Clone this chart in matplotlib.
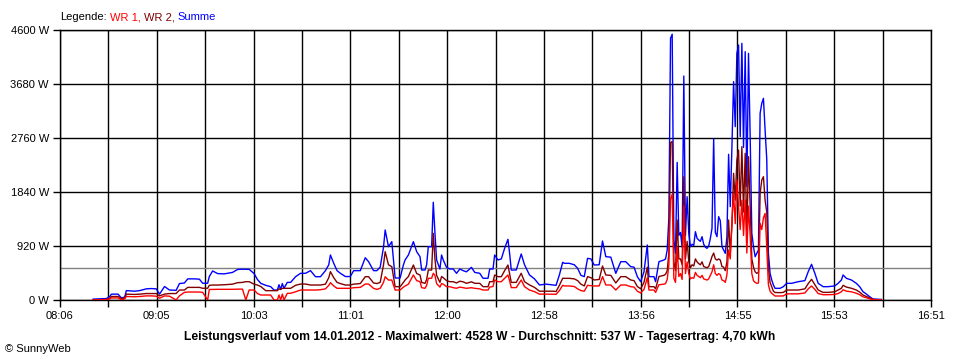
import matplotlib
matplotlib.use("Agg")
import matplotlib.pyplot as plt
import numpy as np

plt.rcParams["font.family"] = ["Liberation Sans", "DejaVu Sans"]

# Messzeitpunkte (HH:MM) und Leistungswerte in W
times = [
    "08:26", "08:30", "08:34", "08:36", "08:37", "08:41", "08:43", "08:45", "08:46", "08:51",
    "08:54", "08:58", "09:01", "09:04", "09:06", "09:09", "09:12", "09:16", "09:18", "09:21",
    "09:23", "09:27", "09:30", "09:32", "09:35", "09:36", "09:38", "09:41", "09:45", "09:50",
    "09:53", "09:56", "09:58", "10:00", "10:03", "10:05", "10:07", "10:10", "10:13", "10:15",
    "10:17", "10:18", "10:19", "10:20", "10:21", "10:23", "10:25", "10:28", "10:31", "10:34",
    "10:37", "10:40", "10:43", "10:46", "10:48", "10:49", "10:51", "10:53", "10:55", "10:58",
    "11:01", "11:03", "11:07", "11:10", "11:12", "11:15", "11:17", "11:19", "11:21", "11:22",
    "11:24", "11:26", "11:28", "11:31", "11:33", "11:34", "11:36", "11:39", "11:41", "11:43",
    "11:44", "11:46", "11:47", "11:48", "11:50", "11:51", "11:52", "11:53", "11:55", "11:56",
    "11:57", "11:59", "12:01", "12:03", "12:05", "12:07", "12:09", "12:11", "12:14", "12:16",
    "12:19", "12:21", "12:24", "12:25", "12:27", "12:28", "12:30", "12:32", "12:34", "12:36",
    "12:37", "12:38", "12:41", "12:44", "12:46", "12:49", "12:52", "12:55", "12:59", "13:03",
    "13:05", "13:07", "13:09", "13:10", "13:13", "13:16", "13:18", "13:20", "13:22", "13:24",
    "13:26", "13:28", "13:31", "13:33", "13:35", "13:38", "13:41", "13:44", "13:47", "13:50",
    "13:52", "13:54", "13:56", "13:58", "14:00", "14:01", "14:04", "14:05", "14:07", "14:10",
    "14:11", "14:12", "14:13", "14:14", "14:15", "14:16", "14:17", "14:18", "14:19", "14:20",
    "14:21", "14:22", "14:23", "14:24", "14:25", "14:26", "14:27", "14:28", "14:29", "14:30",
    "14:31", "14:32", "14:33", "14:34", "14:35", "14:36", "14:37", "14:38", "14:39", "14:40",
    "14:41", "14:42", "14:43", "14:44", "14:45", "14:46", "14:47", "14:48", "14:49", "14:50",
    "14:51", "14:52", "14:53", "14:54", "14:55", "14:56", "14:57", "14:58", "14:59", "15:00",
    "15:01", "15:02", "15:03", "15:04", "15:05", "15:06", "15:07", "15:08", "15:09", "15:10",
    "15:11", "15:12", "15:13", "15:14", "15:15", "15:16", "15:17", "15:20", "15:22", "15:24",
    "15:27", "15:31", "15:35", "15:37", "15:39", "15:41", "15:43", "15:46", "15:49", "15:53",
    "15:55", "15:57", "15:58", "16:00", "16:03", "16:06", "16:08", "16:10", "16:12", "16:14",
    "16:16", "16:21",
]

summe = [
    15, 20, 25, 60, 100, 100, 35, 50, 160, 150,
    160, 190, 195, 190, 100, 230, 170, 165, 280, 290,
    360, 360, 355, 285, 285, 400, 495, 450, 445, 470,
    520, 525, 523, 523, 450, 350, 284, 250, 227, 170,
    170, 260, 180, 280, 200, 300, 300, 397, 455, 455,
    500, 397, 397, 500, 600, 767, 625, 500, 455, 400,
    400, 500, 500, 720, 653, 500, 500, 560, 900, 1193,
    908, 994, 375, 375, 600, 682, 767, 994, 823, 738,
    511, 511, 600, 908, 908, 1665, 1142, 682, 528, 767,
    682, 556, 528, 528, 455, 528, 500, 480, 556, 470,
    455, 370, 370, 528, 528, 767, 682, 700, 880, 1034,
    795, 511, 511, 784, 600, 426, 360, 256, 270, 256,
    250, 426, 642, 625, 625, 600, 540, 420, 398, 710,
    700, 596, 600, 1005, 738, 730, 454, 653, 653, 568,
    560, 398, 312, 480, 937, 398, 398, 312, 653, 681,
    700, 852, 1400, 4458, 4528, 1022, 795, 2345, 1100, 1150,
    900, 3816, 1100, 1760, 1136, 908, 950, 930, 1164, 1050,
    1022, 1000, 1079, 950, 900, 880, 920, 1050, 1221, 2743,
    1150, 1079, 1420, 1350, 908, 850, 795, 1079, 2482, 1590,
    2600, 3720, 2953, 4202, 4344, 2783, 4373, 2600, 4231, 1931,
    4202, 2783, 1136, 908, 738, 795, 852, 3180, 3351, 3436,
    2896, 2400, 800, 454, 341, 256, 199, 199, 227, 284,
    284, 312, 330, 483, 608, 454, 284, 227, 227, 240,
    284, 341, 426, 369, 341, 284, 227, 142, 102, 57,
    17, 10,
]

wr2 = [
    0, 5, 10, 30, 60, 60, 25, 30, 100, 95,
    100, 110, 110, 110, 70, 100, 110, 110, 170, 170,
    215, 215, 215, 200, 200, 250, 255, 255, 260, 270,
    295, 300, 312, 312, 270, 255, 230, 159, 159, 159,
    159, 190, 180, 199, 199, 199, 199, 250, 272, 272,
    255, 255, 255, 270, 380, 483, 380, 300, 280, 255,
    255, 270, 280, 397, 397, 290, 280, 300, 600, 823,
    600, 568, 227, 227, 300, 341, 400, 596, 450, 426,
    300, 284, 350, 511, 511, 1136, 700, 420, 300, 400,
    380, 330, 312, 312, 290, 320, 310, 284, 310, 284,
    284, 227, 227, 312, 312, 426, 397, 397, 500, 596,
    450, 300, 300, 455, 312, 256, 215, 150, 150, 150,
    145, 250, 370, 369, 369, 360, 330, 270, 240, 398,
    380, 341, 350, 579, 426, 420, 290, 398, 398, 341,
    330, 230, 190, 300, 560, 227, 227, 190, 400, 420,
    440, 500, 800, 2680, 2700, 650, 500, 1363, 700, 700,
    600, 2100, 700, 1000, 650, 550, 600, 580, 700, 650,
    620, 600, 650, 570, 560, 550, 570, 650, 740, 800,
    700, 680, 700, 680, 570, 560, 500, 650, 1363, 800,
    1250, 2158, 1700, 2385, 2556, 1600, 2612, 1500, 2499, 1100,
    2442, 1600, 700, 560, 480, 454, 470, 1817, 2044, 2101,
    1700, 1500, 540, 300, 227, 150, 128, 125, 130, 170,
    170, 170, 190, 280, 352, 260, 170, 130, 130, 140,
    170, 200, 250, 220, 200, 170, 135, 85, 60, 35,
    10, 0,
]

wr1 = [
    0, 5, 5, 20, 35, 35, 0, 20, 60, 55,
    60, 70, 70, 65, 30, 70, 65, 0, 70, 130,
    136, 136, 136, 130, 0, 180, 180, 182, 182, 182,
    185, 185, 0, 170, 170, 110, 85, 85, 85, 0,
    0, 85, 0, 100, 0, 114, 114, 140, 170, 170,
    170, 170, 175, 190, 250, 295, 240, 199, 199, 199,
    199, 210, 215, 272, 272, 199, 180, 200, 300, 397,
    340, 340, 170, 170, 220, 238, 270, 426, 330, 312,
    210, 199, 250, 370, 370, 455, 420, 280, 220, 280,
    270, 227, 227, 210, 200, 220, 210, 199, 210, 199,
    190, 170, 170, 220, 230, 341, 312, 312, 370, 426,
    330, 211, 211, 341, 227, 170, 142, 100, 100, 97,
    97, 160, 250, 239, 239, 230, 190, 160, 150, 250,
    245, 239, 240, 398, 256, 256, 170, 256, 256, 227,
    220, 150, 120, 180, 380, 170, 170, 130, 260, 270,
    280, 350, 600, 1721, 1800, 370, 300, 900, 400, 450,
    350, 1600, 450, 650, 450, 360, 380, 370, 470, 420,
    400, 380, 420, 360, 350, 340, 360, 420, 480, 600,
    450, 420, 450, 430, 340, 330, 300, 430, 852, 700,
    1350, 1817, 1300, 2044, 1590, 1200, 1700, 1100, 1704, 800,
    1600, 1100, 450, 330, 300, 284, 290, 1306, 1200, 1400,
    1476, 900, 256, 150, 114, 90, 68, 68, 70, 105,
    105, 105, 120, 190, 239, 180, 110, 90, 90, 95,
    110, 140, 175, 150, 140, 115, 90, 55, 40, 20,
    5, 0,
]

average = 537
y_ticks = [0, 920, 1840, 2760, 3680, 4600]
x_labels = ["08:06", "09:05", "10:03", "11:01", "12:00",
            "12:58", "13:56", "14:55", "15:53", "16:51"]
title_text = ("Leistungsverlauf vom 14.01.2012 - Maximalwert: 4528 W - "
              "Durchschnitt: 537 W - Tagesertrag: 4,70 kWh")
legend_parts = [("Legende:", "black"), ("WR 1,", "#ff0000"),
                ("WR 2,", "#800000"), ("Summe", "#0000ff")]


def to_minutes(hhmm):
    h, m = hhmm.split(":")
    return int(h) * 60 + int(m)


x = np.array([to_minutes(t) for t in times])
x_start = to_minutes(x_labels[0])
x_end = to_minutes(x_labels[-1])

fig = plt.figure(figsize=(9.6, 3.6), dpi=100)
ax = fig.add_axes([60 / 960, 60 / 360, 871 / 960, 270 / 360])

ax.set_xlim(x_start, x_end)
ax.set_ylim(0, 4600)

grid_x = np.linspace(x_start, x_end, 2 * (len(x_labels) - 1) + 1)
ax.set_xticks(grid_x)
tick_text = []
for i in range(len(grid_x)):
    tick_text.append(x_labels[i // 2] if i % 2 == 0 else "")
ax.set_xticklabels(tick_text)
ax.set_yticks(y_ticks)
ax.set_yticklabels([f"{v} W" for v in y_ticks])

ax.grid(True, color="black", linewidth=1.0, zorder=0)
ax.set_axisbelow(True)
for spine in ax.spines.values():
    spine.set_color("black")
    spine.set_linewidth(1.0)
ax.tick_params(direction="out", length=5, width=1, colors="black",
               labelsize=8, pad=3)

ax.axhline(average, color="#808080", linewidth=1.0, zorder=1)
ax.plot(x, summe, color="#0000ff", linewidth=1.0, zorder=2)
ax.plot(x, wr2, color="#800000", linewidth=1.0, zorder=3)
ax.plot(x, wr1, color="#ff0000", linewidth=1.0, zorder=4)

# Legende oben links, mehrfarbig
renderer = fig.canvas.get_renderer()
pos = 60 / 960
for text, color in legend_parts:
    t = fig.text(pos, 1 - 17 / 360, text, color=color, fontsize=8, va="center")
    pos += (t.get_window_extent(renderer).width + 3) / fig.bbox.width

fig.text(0.5, 1 - 337 / 360, title_text, fontsize=8.7, fontweight="bold",
         ha="center", va="center")
fig.text(5 / 960, 1 - 349 / 360, "\u00a9 SunnyWeb", fontsize=8, va="center")

fig.savefig("out.png", dpi=100)
